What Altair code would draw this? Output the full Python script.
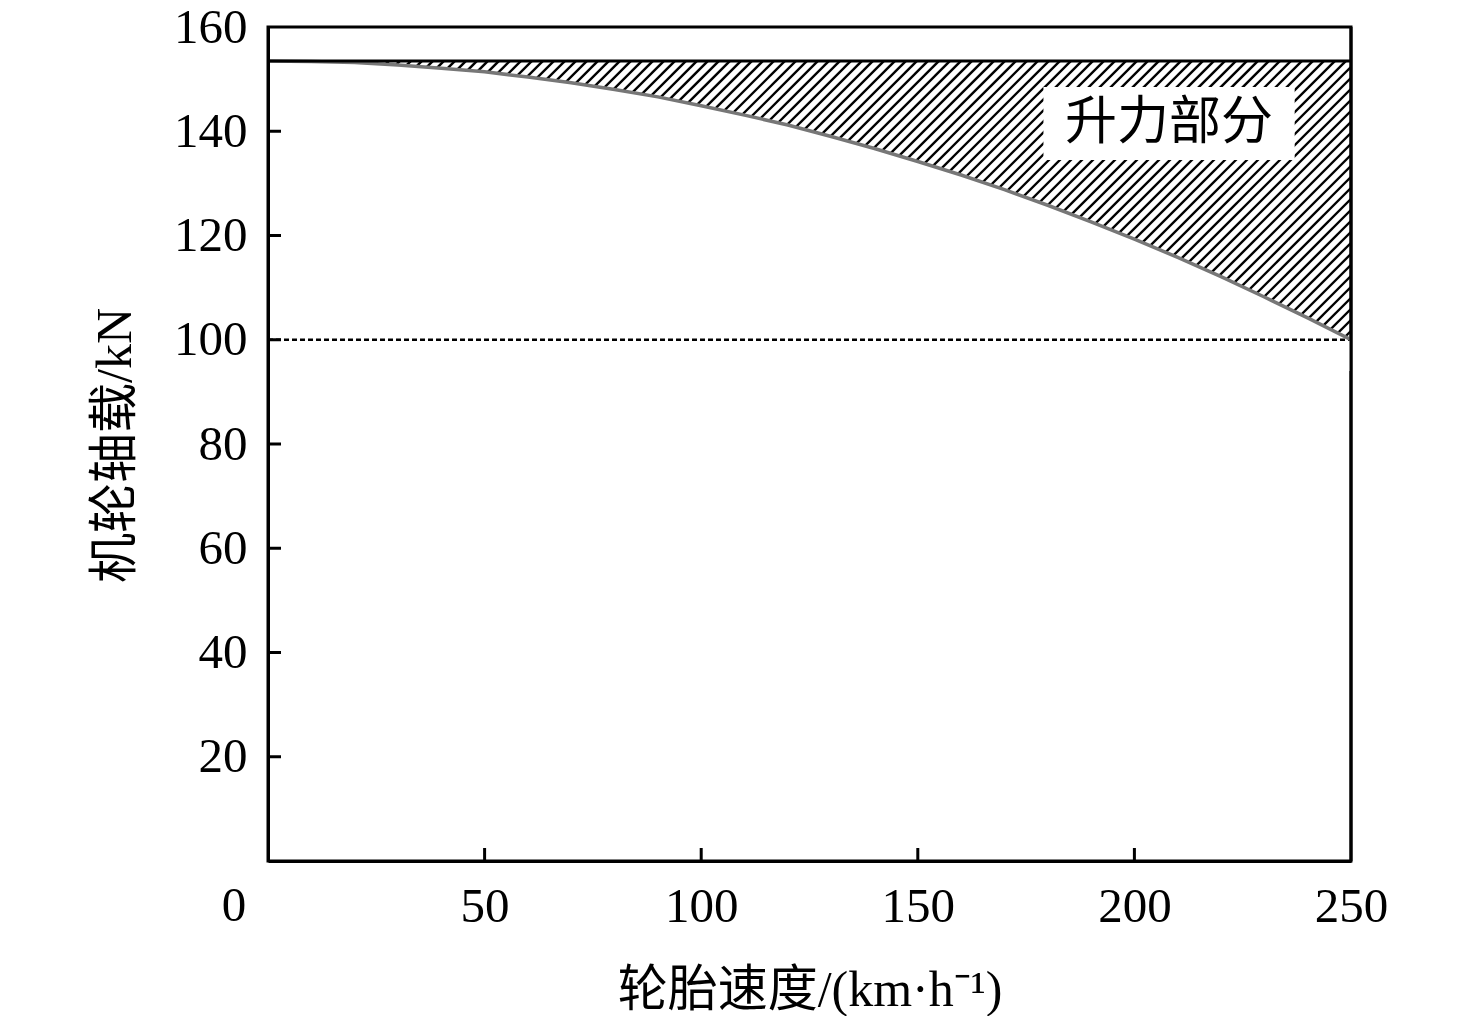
import altair as alt
import pandas as pd

# ---- data ----
speed = [0, 10, 20, 30, 40, 50, 60, 70, 80, 90, 100, 110, 120, 130, 140, 150,
         160, 170, 180, 190, 200, 210, 220, 230, 240, 250]
load = [153.5, 153.4, 153.2, 152.7, 152.1, 151.4, 150.4, 149.3, 148.0, 146.6,
        144.9, 143.1, 141.2, 139.0, 136.7, 134.2, 131.6, 128.8, 125.8, 122.6,
        119.3, 115.8, 112.1, 108.2, 104.2, 100.0]
top_load = 153.5
ref_load = 100
x_ticks = [50, 100, 150, 200, 250]
y_ticks = [20, 40, 60, 80, 100, 120, 140, 160]
label_text = "升力部分"
label_pos = {"x": 208, "y": 141.5}
label_box = {"x": 179, "x2": 237, "y": 134.5, "y2": 148.5}

# ---- layout ----
W, H = 1083, 834
X_MAX, Y_MAX = 250, 160
px_x = W / X_MAX
px_y = H / Y_MAX

x_scale = alt.Scale(domain=[0, X_MAX], nice=False, zero=False)
y_scale = alt.Scale(domain=[0, Y_MAX], nice=False)

serif = "Liberation Serif"
mixed = "Liberation Serif, Noto Sans CJK SC"

x_axis = alt.Axis(values=x_ticks, title="轮胎速度/(km·h⁻¹)", titleFont=mixed,
                  titleFontSize=50, titleFontWeight="normal", titleColor="black",
                  titleBaseline="middle", titleY=129,
                  labelFont=serif, labelFontSize=49, labelColor="black",
                  labelPadding=45, labelBaseline="middle", labelFlush=False,
                  ticks=False, grid=False, domainColor="black", domainWidth=3,
                  zindex=1)
y_axis = alt.Axis(values=y_ticks, title="机轮轴载/kN", titleFont=mixed,
                  titleFontSize=50, titleFontWeight="normal", titleColor="black",
                  titleAngle=270, titleBaseline="middle", titleAlign="center",
                  titleX=-153, titleY=418,
                  labelFont=serif, labelFontSize=49, labelColor="black",
                  labelPadding=21, labelBaseline="middle", labelFlush=False,
                  ticks=False, grid=False, domainColor="black", domainWidth=3,
                  zindex=1)


def X(field):
    return alt.X(field, scale=x_scale, axis=x_axis)


def Y(field):
    return alt.Y(field, scale=y_scale, axis=y_axis)


# hatch pattern (decoration): 45-degree lines, 11 px apart horizontally
hatch_bottom = 97
cover_floor = 94
dy_data = top_load - hatch_bottom
dx_data = dy_data * px_y / px_x
step = 11 / px_x
rows = []
x0 = -dx_data
while x0 <= X_MAX:
    rows.append({"x0": x0, "y0": hatch_bottom, "x1": x0 + dx_data, "y1": top_load})
    x0 += step
hatch_df = pd.DataFrame(rows)

curve_df = pd.DataFrame({"speed": speed, "load": load})
curve_df["floor"] = cover_floor

curve = alt.Chart(curve_df).mark_line(color="#777777", strokeWidth=3.5, clip=True).encode(
    x=X("speed:Q"), y=Y("load:Q"),
)

hatch = alt.Chart(hatch_df).mark_rule(color="black", strokeWidth=2.4, clip=True).encode(
    x=X("x0:Q"), y=Y("y0:Q"), x2="x1:Q", y2="y1:Q",
)

cover = alt.Chart(curve_df).mark_area(color="white", opacity=1, clip=True).encode(
    x=X("speed:Q"), y=Y("load:Q"), y2="floor:Q",
)

box = alt.Chart(pd.DataFrame([label_box])).mark_rect(color="white", opacity=1).encode(
    x=X("x:Q"), x2="x2:Q", y=Y("y:Q"), y2="y2:Q",
)

label = alt.Chart(pd.DataFrame([{**label_pos, "t": label_text}])).mark_text(
    font="Noto Sans CJK SC", fontSize=52, color="black", align="center", baseline="middle"
).encode(
    x=X("x:Q"), y=Y("y:Q"), text="t:N",
)

ref_df = pd.DataFrame({"x": [0], "x2": [X_MAX], "y": [ref_load]})
ref_line = alt.Chart(ref_df).mark_rule(color="black", strokeWidth=2.5, strokeDash=[5, 3]).encode(
    x=X("x:Q"), x2="x2:Q", y=Y("y:Q"),
)

top_df = pd.DataFrame({"x": [0], "x2": [X_MAX], "y": [top_load]})
top_line = alt.Chart(top_df).mark_rule(color="black", strokeWidth=3).encode(
    x=X("x:Q"), x2="x2:Q", y=Y("y:Q"),
)

right_border = alt.Chart(pd.DataFrame({"x": [X_MAX]})).mark_rule(color="black", strokeWidth=3).encode(
    x=X("x:Q"), y=alt.value(0), y2=alt.value(H),
)

yt = alt.Chart(pd.DataFrame({"v": y_ticks[:-1]})).mark_rule(color="black", strokeWidth=3).encode(
    y=Y("v:Q"), x=alt.value(0), x2=alt.value(13),
)
xt = alt.Chart(pd.DataFrame({"v": x_ticks[:-1]})).mark_rule(color="black", strokeWidth=3).encode(
    x=X("v:Q"), y=alt.value(H), y2=alt.value(H - 13),
)

zero = alt.Chart(pd.DataFrame({"x": [0], "y": [0], "t": ["0"]})).mark_text(
    font=serif, fontSize=49, color="black", align="center", baseline="middle", dx=-34, dy=45
).encode(
    x=X("x:Q"), y=Y("y:Q"), text="t:N",
)

chart = alt.layer(
    hatch, cover, box, label, ref_line, curve, top_line, right_border, yt, xt, zero
).properties(
    width=W, height=H,
    autosize=alt.AutoSizeParams(type="none"),
    padding={"left": 260, "top": 19, "right": 117, "bottom": 155},
    background="white",
).configure_view(stroke="black", strokeWidth=3)

chart.save("out.html", embed_options={"renderer": "svg", "actions": False})
